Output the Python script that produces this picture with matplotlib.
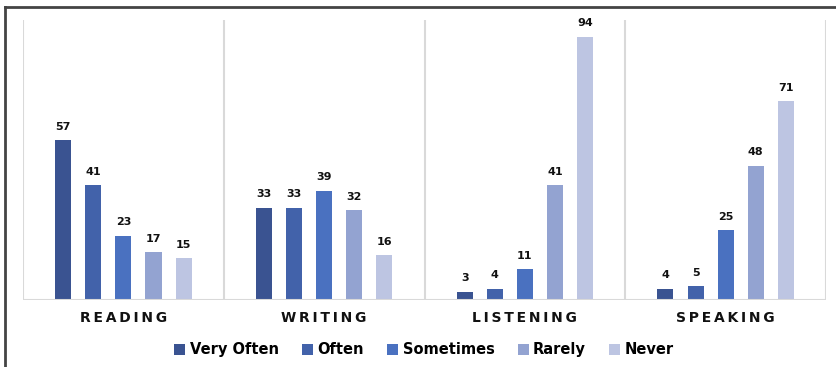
import matplotlib.pyplot as plt
import numpy as np
from matplotlib.lines import Line2D

skills = ['READING', 'WRITING', 'LISTENING', 'SPEAKING']
freq = ['Very Often', 'Often', 'Sometimes', 'Rarely', 'Never']
very_often = [57, 33, 3, 4]
often = [41, 33, 4, 5]
sometimes = [23, 39, 11, 25]
rarely = [17, 32, 41, 48]
never = [15, 16, 94, 71]
series = [very_often, often, sometimes, rarely, never]
colors = ['#3A5391', '#4262AA', '#4A71C0', '#93A3D1', '#BDC5E2']

fig = plt.figure(figsize=(8.37, 3.67), dpi=100)
ax = fig.add_axes([0.0275, 0.1826, 0.9594, 0.7629])

x = np.arange(len(skills))
w = 0.08
step = 0.15
for i, (vals, c) in enumerate(zip(series, colors)):
    pos = x + (i - 2) * step
    bars = ax.bar(pos, vals, width=w, color=c, label=freq[i], zorder=3)
    for b, v in zip(bars, vals):
        ax.annotate(str(v), (b.get_x() + b.get_width() / 2, v),
                    xytext=(0, 6), textcoords='offset points',
                    ha='center', va='bottom', fontsize=8,
                    fontweight='bold', color='#111111')

ax.set_xlim(-0.5, len(skills) - 0.5)
ax.set_ylim(0, 100)

# separators between categories
for s in np.arange(-0.5, len(skills), 1):
    ax.axvline(s, color='#D9D9D9', lw=1.5, zorder=1)
ax.axhline(0, color='#D9D9D9', lw=1.5, zorder=4)

for sp in ax.spines.values():
    sp.set_visible(False)
ax.set_yticks([])
ax.set_xticks(x)
ax.set_xticklabels(['\u2009'.join(s) for s in skills], fontsize=10,
                   fontweight='bold', color='#111111')
ax.tick_params(axis='x', length=0, pad=8)

ax.legend(loc='center', bbox_to_anchor=(0.5 - 0.0006, -0.178), ncol=5,
          frameon=False, prop={'size': 10.5, 'weight': 'bold'},
          handlelength=0.75, handleheight=0.75, handletextpad=0.3,
          columnspacing=1.6)

# outer border (left and top visible)
fig.add_artist(Line2D([0.006, 0.006], [0, 0.981], color='#444444', lw=2,
                      transform=fig.transFigure))
fig.add_artist(Line2D([0.006, 1.0], [0.981, 0.981], color='#444444', lw=2,
                      transform=fig.transFigure))

fig.savefig('out.png', dpi=100)
